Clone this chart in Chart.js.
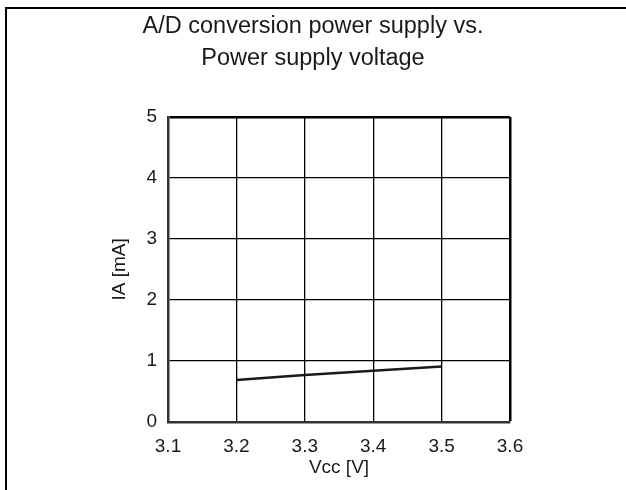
<!DOCTYPE html>
<html>
<head>
<meta charset="utf-8">
<script src="https://cdn.jsdelivr.net/npm/chart.js@4/dist/chart.umd.min.js"></script>
<style>
  html, body { margin: 0; padding: 0; background: #fff; }
  #wrap { width: 626px; height: 490px; }
</style>
</head>
<body>
<div id="wrap"><canvas id="chart" width="626" height="490"></canvas></div>
<script>
// Data
const vccValues = [3.2, 3.3, 3.4, 3.5];
const iaValues = [0.69, 0.77, 0.84, 0.91];
const xTicks = [3.1, 3.2, 3.3, 3.4, 3.5, 3.6];
const yTicks = [0, 1, 2, 3, 4, 5];
const titleLines = ['A/D conversion power supply vs.', 'Power supply voltage'];

const FONT = "'Liberation Sans', Arial, sans-serif";
const INK = '#1a1a1a';

// Draws the page frame (top and left lines)
const framePlugin = {
    id: 'frame',
    afterDraw(chart) {
        const c = chart.ctx;
        c.save();
        c.strokeStyle = '#000';
        c.lineWidth = 2;
        c.beginPath();
        c.moveTo(6, 490);
        c.lineTo(6, 8);
        c.lineTo(626, 8);
        c.stroke();
        c.restore();
    }
};

new Chart(document.getElementById('chart'), {
    type: 'line',
    data: {
        datasets: [{
            data: vccValues.map((v, i) => ({ x: v, y: iaValues[i] })),
            borderColor: INK,
            borderWidth: 2.5,
            pointRadius: 0,
            tension: 0
        }]
    },
    options: {
        responsive: false,
        animation: false,
        layout: { padding: { left: 0, right: 0, top: 0, bottom: 0 } },
        plugins: {
            legend: { display: false },
            tooltip: { enabled: false },
            title: {
                display: true,
                text: titleLines,
                color: INK,
                font: { family: FONT, size: 23.5, weight: 'normal', lineHeight: 1.36 },
                padding: { top: 11, bottom: 42 }
            }
        },
        scales: {
            x: {
                type: 'linear',
                min: xTicks[0],
                max: xTicks[xTicks.length - 1],
                afterBuildTicks: s => { s.ticks = xTicks.map(v => ({ value: v })); },
                afterFit: s => { s.height = 68; },
                ticks: {
                    color: INK,
                    padding: 13,
                    font: { family: FONT, size: 19 },
                    callback: v => v.toFixed(1)
                },
                grid: {
                    color: '#000',
                    lineWidth: ctx => ctx.index === xTicks.length - 1 ? 2.5 : 1.3,
                    drawTicks: false
                },
                border: { color: '#333', width: 2.5 },
                title: {
                    display: true,
                    text: 'Vcc [V]',
                    color: INK,
                    font: { family: FONT, size: 19 },
                    padding: { top: 0, bottom: 11 }
                }
            },
            y: {
                min: yTicks[0],
                max: yTicks[yTicks.length - 1],
                afterBuildTicks: s => { s.ticks = yTicks.map(v => ({ value: v })); },
                afterFit: s => { s.width = 168; },
                ticks: {
                    color: INK,
                    padding: 11,
                    font: { family: FONT, size: 19 }
                },
                grid: {
                    color: '#000',
                    lineWidth: ctx => ctx.index === yTicks.length - 1 ? 2.5 : 1.3,
                    drawTicks: false
                },
                border: { color: '#333', width: 2.5 },
                title: {
                    display: true,
                    text: 'IA [mA]',
                    color: INK,
                    font: { family: FONT, size: 19 },
                    padding: { top: 108, bottom: 0 }
                }
            },
            // empty axis that only reserves the blank space right of the plot
            yRight: {
                position: 'right',
                display: true,
                afterFit: s => { s.width = 116; },
                ticks: { display: false },
                grid: { display: false, drawTicks: false },
                border: { display: false }
            }
        }
    },
    plugins: [framePlugin]
});
</script>
</body>
</html>
